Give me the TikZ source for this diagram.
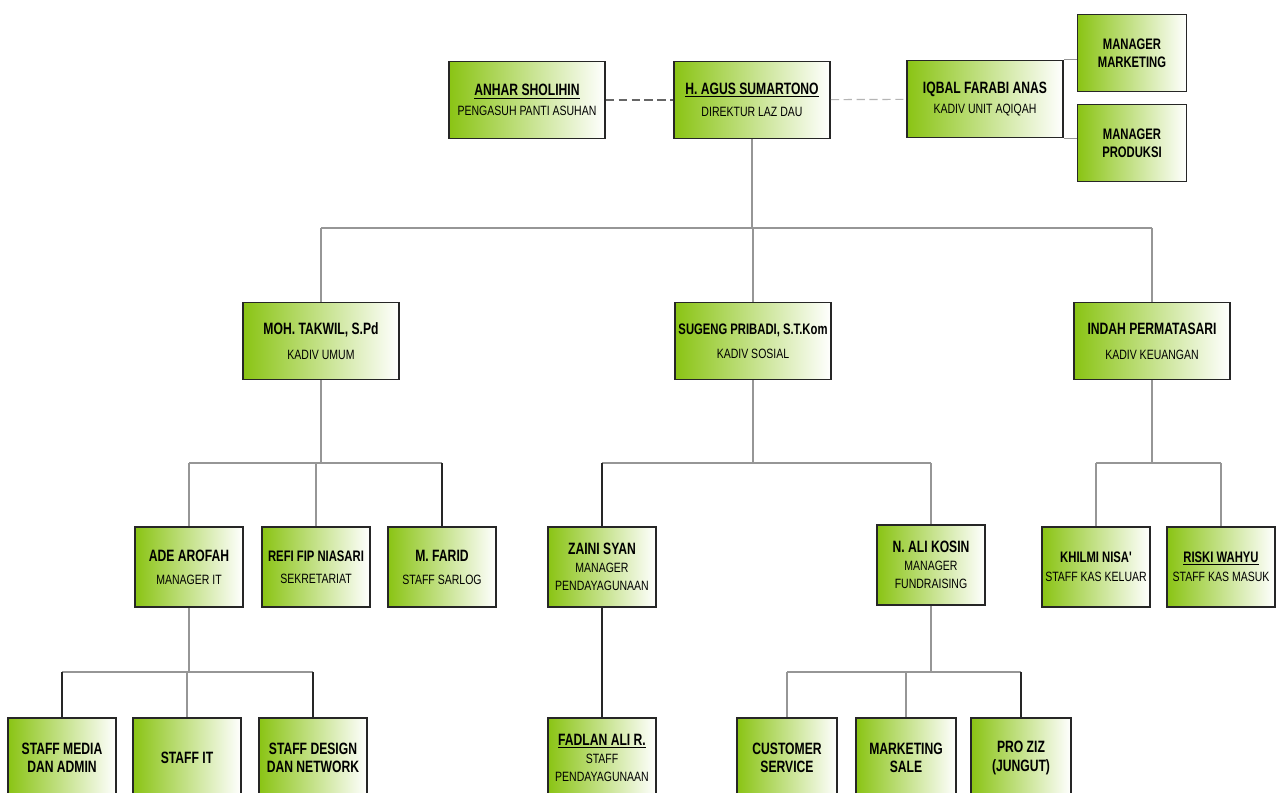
\documentclass[tikz,border=0pt]{standalone}
\usepackage{fontspec}
\newfontfamily\namefont[FakeStretch=0.74]{Liberation Sans}
\newfontfamily\jabfont[FakeStretch=0.78]{Liberation Sans}
\newcommand{\jabatan}[1]{{\jabfont\mdseries\fontsize{11.5}{13}\selectfont #1}}
\definecolor{lazgreen}{RGB}{138,196,20}
\definecolor{linegray}{RGB}{150,150,150}
\usetikzlibrary{positioning}

\begin{document}
\begin{tikzpicture}[x=0.03cm, y=-0.03cm,
  box/.style={draw=black!85, line width=1.4pt, left color=lazgreen, middle color=lazgreen!40!white,
    right color=white, align=center, inner sep=2pt,
    font=\namefont\bfseries\fontsize{14}{15.5}\selectfont},
  bigbox/.style={box, minimum width=4.68cm, minimum height=2.31cm},
  smallbox/.style={box, minimum width=3.24cm, minimum height=2.4cm},
  mgrbox/.style={box, minimum width=3.27cm, minimum height=2.31cm,
    font=\namefont\bfseries\fontsize{13}{15}\selectfont},
  botbox/.style={box, minimum width=3.0cm, minimum height=2.4cm},
  link/.style={draw=linegray, line width=0.9pt},
  linkdark/.style={draw=black!85, line width=1.1pt},
  tight/.style={font=\namefont\bfseries\fontsize{13}{14.5}\selectfont}]
\clip (0,0) rectangle (1281,793);
\fill[white] (0,0) rectangle (1281,793);

\coordinate (bar1) at (0,228);
\coordinate (bar2) at (0,463);
\coordinate (bar3) at (0,672);

\node[bigbox] (anhar) at (527,100) {\underline{ANHAR SHOLIHIN}\\[1pt]\jabatan{PENGASUH PANTI ASUHAN}};
\node[bigbox] (agus) at (752,100) {\underline{H. AGUS SUMARTONO}\\[3pt]\jabatan{DIREKTUR LAZ DAU}};
\node[bigbox] (iqbal) at (985,99) {IQBAL FARABI ANAS\\[1pt]\jabatan{KADIV UNIT AQIQAH}};
\node[mgrbox] (mkt) at (1132,53) {MANAGER\\MARKETING};
\node[mgrbox] (prod) at (1132,143) {MANAGER\\PRODUKSI};

\node[bigbox] (takwil) at (321,341) {MOH. TAKWIL, S.Pd\\[6pt]\jabatan{KADIV UMUM}};
\node[bigbox, tight] (sugeng) at (753,341) {SUGENG PRIBADI, S.T.Kom\\[6pt]\jabatan{KADIV SOSIAL}};
\node[bigbox] (indah) at (1152,341) {INDAH PERMATASARI\\[6pt]\jabatan{KADIV KEUANGAN}};

\node[smallbox] (ade) at (189,567) {ADE AROFAH\\[4pt]\jabatan{MANAGER IT}};
\node[smallbox, tight] (refi) at (316,567) {REFI FIP NIASARI\\[4pt]\jabatan{SEKRETARIAT}};
\node[smallbox] (farid) at (442,567) {M. FARID\\[4pt]\jabatan{STAFF SARLOG}};
\node[smallbox] (zaini) at (602,567) {ZAINI SYAN\\\jabatan{MANAGER}\\\jabatan{PENDAYAGUNAAN}};
\node[smallbox] (alikosin) at (931,565) {N. ALI KOSIN\\\jabatan{MANAGER}\\\jabatan{FUNDRAISING}};
\node[smallbox, tight] (khilmi) at (1096,567) {KHILMI NISA'\\[2pt]\jabatan{STAFF KAS KELUAR}};
\node[smallbox, tight] (riski) at (1221,567) {\underline{RISKI WAHYU}\\[2pt]\jabatan{STAFF KAS MASUK}};

\node[smallbox] (media) at (62,758) {STAFF MEDIA\\DAN ADMIN};
\node[smallbox] (staffit) at (187,758) {STAFF IT};
\node[smallbox] (design) at (313,758) {STAFF DESIGN\\DAN NETWORK};
\node[smallbox] (fadlan) at (602,758) {\underline{FADLAN ALI R.}\\\jabatan{STAFF}\\\jabatan{PENDAYAGUNAAN}};
\node[botbox] (cs) at (787,758) {CUSTOMER\\SERVICE};
\node[botbox] (sale) at (906,758) {MARKETING\\SALE};
\node[botbox] (prozis) at (1021,758) {PRO ZIZ\\(JUNGUT)};

\draw[draw=black!60, line width=1pt, dash pattern=on 7pt off 4pt] (anhar) -- (agus);
\draw[draw=linegray!70, line width=1pt, dash pattern=on 7pt off 4pt] (agus) -- (iqbal);
\draw[link] (iqbal.north east) -- (iqbal.north east -| mkt.west);
\draw[link] (iqbal.south east) -- (iqbal.south east -| prod.west);

\draw[link] (agus.south) -- (agus.south |- bar1);
\draw[link] (takwil.north |- bar1) -- (indah.north |- bar1);
\draw[link] (takwil.north) -- (takwil.north |- bar1);
\draw[link] (sugeng.north) -- (sugeng.north |- bar1);
\draw[link] (indah.north) -- (indah.north |- bar1);

\draw[link] (takwil.south) -- (takwil.south |- bar2);
\draw[link] (ade.north |- bar2) -- (farid.north |- bar2);
\draw[link] (ade.north) -- (ade.north |- bar2);
\draw[link] (refi.north) -- (refi.north |- bar2);
\draw[linkdark] (farid.north) -- (farid.north |- bar2);

\draw[link] (sugeng.south) -- (sugeng.south |- bar2);
\draw[link] (zaini.north |- bar2) -- (alikosin.north |- bar2);
\draw[linkdark] (zaini.north) -- (zaini.north |- bar2);
\draw[link] (alikosin.north) -- (alikosin.north |- bar2);

\draw[link] (indah.south) -- (indah.south |- bar2);
\draw[link] (khilmi.north |- bar2) -- (riski.north |- bar2);
\draw[link] (khilmi.north) -- (khilmi.north |- bar2);
\draw[link] (riski.north) -- (riski.north |- bar2);

\draw[link] (ade.south) -- (ade.south |- bar3);
\draw[link] (media.north |- bar3) -- (design.north |- bar3);
\draw[linkdark] (media.north) -- (media.north |- bar3);
\draw[link] (staffit.north) -- (staffit.north |- bar3);
\draw[linkdark] (design.north) -- (design.north |- bar3);

\draw[linkdark] (zaini.south) -- (fadlan.north);

\draw[link] (alikosin.south) -- (alikosin.south |- bar3);
\draw[link] (cs.north |- bar3) -- (prozis.north |- bar3);
\draw[link] (cs.north) -- (cs.north |- bar3);
\draw[link] (sale.north) -- (sale.north |- bar3);
\draw[linkdark] (prozis.north) -- (prozis.north |- bar3);
\end{tikzpicture}
\end{document}
